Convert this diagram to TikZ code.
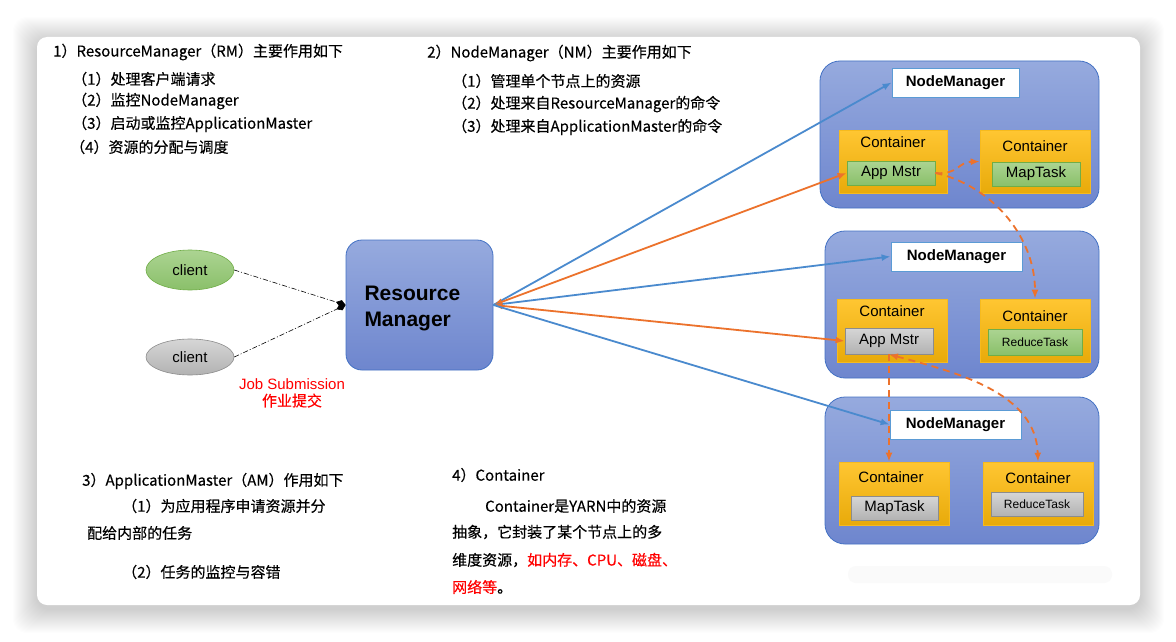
\documentclass[tikz,border=0pt]{standalone}
\usepackage{fontspec}
\setmainfont{Liberation Sans}
\newfontfamily\cjk[FakeBold=0.3]{Noto Sans CJK SC}
\usepackage{tikz}
\usetikzlibrary{
  shapes.geometric,
  arrows.meta,
  positioning,
  calc
}
\definecolor{nodetop}{RGB}{150, 170, 222}
\definecolor{nodebottom}{RGB}{110, 134, 206}
\definecolor{nodeborder}{RGB}{68, 114, 196}
\definecolor{nmborder}{RGB}{91, 155, 213}
\definecolor{contop}{RGB}{255, 198, 50}
\definecolor{conbottom}{RGB}{232, 170, 10}
\definecolor{conborder}{RGB}{246, 186, 30}
\definecolor{greentop}{RGB}{172, 212, 146}
\definecolor{greenbottom}{RGB}{138, 192, 106}
\definecolor{greenborder}{RGB}{112, 173, 71}
\definecolor{graytop}{RGB}{214, 214, 214}
\definecolor{graybottom}{RGB}{178, 178, 178}
\definecolor{grayborder}{RGB}{140, 140, 140}
\definecolor{bluelink}{RGB}{74, 138, 206}
\definecolor{orangelink}{RGB}{236, 114, 44}
\definecolor{notered}{RGB}{255, 0, 0}
\tikzset{
notetext/.style={
  anchor=west,
  inner sep=0pt,
  font=\cjk\fontsize{15}{18}\selectfont,
  text=black
},
rmbox/.style={
  draw=nodeborder,
  line width=0.8pt,
  rounded corners=16pt,
  top color=nodetop,
  bottom color=nodebottom,
  minimum width=147pt,
  minimum height=130pt,
  text width=110pt,
  align=left,
  font=\bfseries\fontsize{21}{26}\selectfont
},
nodebox/.style={
  draw=nodeborder,
  line width=0.8pt,
  rounded corners=20pt,
  top color=nodetop,
  bottom color=nodebottom,
  minimum height=147pt,
  minimum width=274pt
},
nmlabel/.style={
  draw=nmborder,
  line width=0.8pt,
  fill=white,
  minimum height=29pt,
  minimum width=131pt,
  font=\bfseries\fontsize{15}{18}\selectfont
},
conbox/.style={
  draw=conborder,
  line width=0.6pt,
  top color=contop,
  bottom color=conbottom,
  minimum width=110pt,
  minimum height=63pt
},
contitle/.style={
  inner sep=0pt,
  font=\fontsize{15}{18}\selectfont
},
greentask/.style={
  draw=greenborder,
  line width=0.8pt,
  top color=greentop,
  bottom color=greenbottom,
  minimum width=88pt,
  minimum height=24pt,
  inner sep=0pt,
  font=\fontsize{15}{18}\selectfont
},
graytask/.style={
  greentask,
  draw=grayborder,
  top color=graytop,
  bottom color=graybottom
},
client/.style={
  ellipse,
  draw=greenborder,
  line width=0.6pt,
  top color=greentop,
  bottom color=greenbottom,
  minimum width=88pt,
  minimum height=40pt,
  inner sep=0pt,
  font=\fontsize{15}{18}\selectfont
},
submit/.style={
  -{Diamond[length=10pt,width=7pt]},
  line width=0.6pt,
  dash pattern=on 5pt off 2pt on 1pt off 2pt
},
bluearrow/.style={
  -{Latex[length=9pt,width=7pt]},
  line width=1.8pt,
  draw=bluelink
},
orangearrow/.style={
  {Latex[length=9pt,width=7pt]}-{Latex[length=9pt,width=7pt]},
  line width=1.8pt,
  draw=orangelink
},
dashedarrow/.style={
  -{Latex[length=9pt,width=7pt]},
  line width=1.8pt,
  draw=orangelink,
  dash pattern=on 7pt off 5pt
}
}
\begin{document}
\begin{tikzpicture}[x=1pt, y=-1pt]
  \useasboundingbox[fill=white] (0,0) rectangle (1176,642);
  % card with its shadow
  \foreach \s in {1,...,24}
    \fill[black, opacity=0.006, rounded corners=14pt] (37-\s,41-\s) rectangle (1140+\s,609+\s);
  \fill[white, rounded corners=10pt] (37,37) rectangle (1140,605);
  \fill[gray!4, rounded corners=8pt] (848,566) rectangle (1112,583);

  % notes
  \node[notetext] (n1) at (53,52) {1）ResourceManager（RM）主要作用如下};
  \node[notetext] (n11) at (72,79) {（1）处理客户端请求};
  \node[notetext] (n12) at (72,101) {（2）监控NodeManager};
  \node[notetext] (n13) at (72,124) {（3）启动或监控ApplicationMaster};
  \node[notetext] (n14) at (70,147) {（4）资源的分配与调度};

  \node[notetext] (n2) at (427,53) {2）NodeManager（NM）主要作用如下};
  \node[notetext] (n21) at (452,81) {（1）管理单个节点上的资源};
  \node[notetext] (n22) at (452,104) {（2）处理来自ResourceManager的命令};
  \node[notetext] (n23) at (452,127) {（3）处理来自ApplicationMaster的命令};

  \node[notetext] (n3) at (82,481) {3）ApplicationMaster（AM）作用如下};
  \node[notetext] (n31) at (122,506) {（1）为应用程序申请资源并分};
  \node[notetext] (n32) at (87,533) {配给内部的任务};
  \node[notetext] (n33) at (122,572) {（2）任务的监控与容错};

  \node[notetext] (n4) at (452,475) {4）Container};
  \node[notetext] (n41) at (485,506) {Container是YARN中的资源};
  \node[notetext] (n42) at (452,532) {抽象，它封装了某个节点上的多};
  \node[notetext] (n43) at (452,560) {维度资源，\textcolor{notered}{如内存、CPU、磁盘、}};
  \node[notetext] (n44) at (452,587) {\textcolor{notered}{网络等}。};

  % clients and resource manager
  \node[client] (cl1) at (190,270) {client};
  \node[client, draw=grayborder, top color=graytop, bottom color=graybottom, minimum height=36pt] (cl2) at (190,357) {client};
  \node[rmbox] (rm) at (419.5,305) {\rule{0pt}{22pt}Resource\\Manager};
  \node[align=center, text=notered, font=\fontsize{15}{17}\selectfont] (job) at (292,393) {Job Submission\\{\cjk 作业提交}};

  \draw[submit] (cl1.east) -- (rm.west);
  \draw[submit] (cl2.east) -- (rm.west);

  % node managers
  \node[nodebox, minimum width=279pt] (nm1) at (959.5,134.5) {};
  \node[nodebox] (nm2) at (962,304.5) {};
  \node[nodebox] (nm3) at (962,470.5) {};

  \node[nmlabel, minimum width=127pt] (nml1) at (955.5,82.5) {NodeManager};
  \node[nmlabel] (nml2) at (956.5,256.5) {NodeManager};
  \node[nmlabel] (nml3) at (955.5,424.5) {NodeManager};

  \node[conbox, minimum width=108pt] (c11) at (893,161.5) {};
  \node[conbox] (c12) at (1035,161.5) {};
  \node[conbox] (c21) at (892,330.5) {};
  \node[conbox] (c22) at (1035,330.5) {};
  \node[conbox] (c31) at (894,493.5) {};
  \node[conbox] (c32) at (1038,493.5) {};

  \node[contitle, below=6.5pt of c11.north] (t11) {Container};
  \node[contitle, below=10.5pt of c12.north] (t12) {Container};
  \node[contitle, below=6.5pt of c21.north] (t21) {Container};
  \node[contitle, below=11.5pt of c22.north] (t22) {Container};
  \node[contitle, below=9.5pt of c31.north, xshift=-3pt] (t31) {Container};
  \node[contitle, below=10.5pt of c32.north] (t32) {Container};

  \node[greentask] (a1) at (891,173) {App Mstr};
  \node[greentask] (m1) at (1036,174) {MapTask};
  \node[graytask, minimum height=26pt] (a2) at (889,341) {App Mstr};
  \node[greentask, minimum width=94pt, minimum height=26pt, font=\fontsize{12}{14}\selectfont] (r2) at (1035,342) {ReduceTask};
  \node[graytask, minimum width=87pt] (m3) at (894.5,508) {MapTask};
  \node[graytask, minimum width=92pt, font=\fontsize{12}{14}\selectfont] (r3) at (1037,504) {ReduceTask};

  % links from the resource manager
  \draw[bluearrow] (rm.east) -- (nml1.west);
  \draw[orangearrow] (rm.east) -- (a1.west);
  \draw[bluearrow] (rm.east) -- (nml2.west);
  \draw[orangearrow] (rm.east) -- (a2.west);
  \draw[bluearrow] (rm.east) -- (nml3.west);

  % application master links
  \draw[dashedarrow] (a1.east) .. controls (958,175) and (958,162) .. (c12.west);
  \draw[dashedarrow] (a1.east) .. controls (990,185) and (1035,235) .. (c22.north);
  \draw[dashedarrow, {Latex[length=9pt,width=7pt]}-{Latex[length=9pt,width=7pt]}] (a2.south) .. controls (955,372) and (1036,392) .. (c32.north);
  \draw[dashedarrow] (a2.south) -- (a2.south |- c31.north);
\end{tikzpicture}
\end{document}
